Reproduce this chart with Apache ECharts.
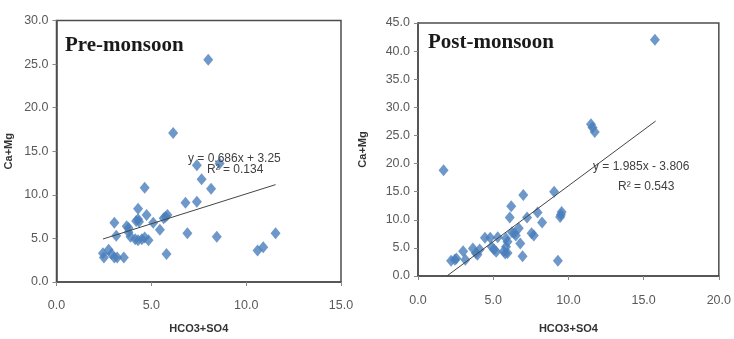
<!DOCTYPE html>
<html>
<head>
<meta charset="utf-8">
<script src="https://cdn.jsdelivr.net/npm/echarts@6/dist/echarts.min.js"></script>
<style>
  html, body { margin: 0; padding: 0; background: #fff; }
  #chart { width: 734px; height: 339px; }
</style>
</head>
<body>
<div id="chart"></div>
<script>
// pre-monsoon samples [HCO3+SO4, Ca+Mg]
const preData = [
  [8.0, 25.5], [6.15, 17.1], [7.4, 13.4], [8.6, 13.6], [7.65, 11.8], [8.15, 10.7],
  [4.65, 10.8], [6.8, 9.1], [7.4, 9.2], [4.3, 8.4], [3.05, 6.8], [3.7, 6.4],
  [3.8, 6.2], [4.3, 7.2], [4.2, 7.0], [4.35, 6.9], [4.75, 7.7], [5.1, 6.8],
  [5.65, 7.3], [5.75, 7.5], [5.85, 7.7], [5.45, 6.0], [6.9, 5.6], [3.8, 5.7],
  [3.9, 5.2], [3.15, 5.3], [4.15, 4.9], [4.3, 4.8], [4.5, 4.9], [4.65, 5.1],
  [4.85, 4.8], [5.8, 3.2], [8.45, 5.2], [11.55, 5.6], [10.6, 3.6], [10.9, 4.0],
  [2.45, 3.3], [2.5, 2.8], [2.75, 3.7], [2.9, 3.2], [3.05, 2.8], [3.2, 2.8], [3.55, 2.8]
];
// post-monsoon samples
const postData = [
  [15.75, 42.0], [1.7, 18.8], [11.5, 27.0], [11.6, 26.4], [11.75, 25.6],
  [9.05, 15.0], [7.0, 14.4], [6.2, 12.4], [6.1, 10.4], [7.25, 10.4], [7.95, 11.3],
  [8.25, 9.5], [9.55, 11.4], [9.5, 10.9], [9.45, 10.5], [6.7, 8.5], [6.4, 7.6],
  [6.5, 7.2], [6.25, 7.8], [7.55, 7.6], [7.7, 7.2], [5.85, 6.7], [5.95, 6.1],
  [5.3, 6.9], [4.8, 6.8], [4.45, 6.8], [6.8, 5.8], [5.85, 5.2], [5.95, 4.1],
  [5.8, 4.0], [5.7, 4.4], [4.9, 5.2], [5.05, 4.7], [5.2, 4.3], [4.1, 4.7],
  [3.85, 4.1], [3.65, 4.9], [3.95, 3.8], [3.0, 4.4], [3.15, 2.9], [2.2, 2.7],
  [2.45, 2.9], [2.55, 3.1], [6.95, 3.5], [9.3, 2.7]
];
// linear trendlines
const preTrend = [[2.45, 4.93], [11.55, 11.17]];
const postTrend = [[1.92, 0], [15.8, 27.56]];
const preEq = ["y = 0.686x + 3.25", "R² = 0.134"];
const postEq = ["y = 1.985x - 3.806", "R² = 0.543"];

const myChart = echarts.init(document.getElementById("chart"));

const boxColor = "#4d4d4d";
const labelStyle = {
  color: "#595959",
  fontSize: 12.5,
  fontFamily: "Liberation Sans",
  formatter: (v) => v.toFixed(1),
};
const nameStyle = {
  color: "#333",
  fontSize: 11,
  fontWeight: "bold",
  fontFamily: "Liberation Sans",
};

function valueAxis(grid, max, extra) {
  return Object.assign({
    type: "value",
    gridIndex: grid,
    min: 0,
    max: max,
    interval: 5,
    axisLine: { show: true, lineStyle: { color: boxColor, width: 1.5 } },
    axisTick: { show: true, inside: false, length: 4, lineStyle: { color: "#888" } },
    axisLabel: labelStyle,
    splitLine: { show: false },
    nameLocation: "middle",
    nameTextStyle: nameStyle,
  }, extra);
}

function titleText(txt, left, top, serif) {
  return {
    text: txt,
    left: left,
    top: top,
    padding: 0,
    textStyle: serif
      ? { fontFamily: "Liberation Serif", fontWeight: "bold", fontSize: 21, color: "#1a1a1a" }
      : { fontFamily: "Liberation Sans", fontWeight: "normal", fontSize: 12, color: "#404040" },
  };
}

const option = {
  animation: false,
  title: [
    titleText("Pre-monsoon", 65, 35, true),
    titleText("Post-monsoon", 428, 32, true),
    titleText(preEq[0], 188, 153),
    titleText(preEq[1], 207, 164),
    titleText(postEq[0], 593, 161),
    titleText(postEq[1], 618, 181),
  ],
  grid: [
    { left: 56.5, top: 20.5, width: 284.5, height: 271, show: true, borderColor: boxColor, borderWidth: 1.5 },
    { left: 418, top: 23, width: 304, height: 255, show: true, borderColor: boxColor, borderWidth: 1.5 },
  ],
  xAxis: [
    valueAxis(0, 15, { name: "HCO3+SO4", nameGap: 41, axisLabel: Object.assign({ margin: 17 }, labelStyle) }),
    valueAxis(1, 20, { name: "HCO3+SO4", nameGap: 47, axisLabel: Object.assign({ margin: 18 }, labelStyle) }),
  ],
  yAxis: [
    valueAxis(0, 30, { name: "Ca+Mg", nameGap: 42, axisLabel: Object.assign({ margin: 8 }, labelStyle) }),
    valueAxis(1, 45, { name: "Ca+Mg", nameGap: 50, axisLabel: Object.assign({ margin: 8 }, labelStyle) }),
  ],
  series: [
    {
      type: "scatter",
      xAxisIndex: 0,
      yAxisIndex: 0,
      data: preData,
      symbol: "diamond",
      symbolSize: [10, 12],
      itemStyle: { color: "#4a7ebb" },
    },
    {
      type: "line",
      xAxisIndex: 0,
      yAxisIndex: 0,
      data: preTrend,
      symbol: "none",
      lineStyle: { color: "#444", width: 1 },
    },
    {
      type: "scatter",
      xAxisIndex: 1,
      yAxisIndex: 1,
      data: postData,
      symbol: "diamond",
      symbolSize: [10, 12],
      itemStyle: { color: "#4a7ebb" },
    },
    {
      type: "line",
      xAxisIndex: 1,
      yAxisIndex: 1,
      data: postTrend,
      symbol: "none",
      lineStyle: { color: "#444", width: 1 },
    },
  ],
};
myChart.setOption(option);
</script>
</body>
</html>
